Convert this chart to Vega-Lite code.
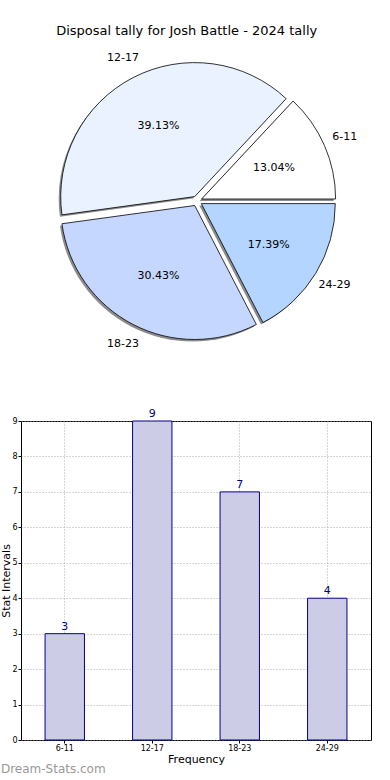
{
  "$schema": "https://vega.github.io/schema/vega-lite/v6.json",
  "padding": {"left": 0, "top": 25, "right": 0, "bottom": 0},
  "background": "white",
  "config": {
    "font": "DejaVu Sans",
    "view": {"stroke": null},
    "title": {"font": "DejaVu Sans", "fontWeight": "normal", "fontSize": 13, "color": "#000"}
  },
  "title": {"text": "Disposal tally for Josh Battle - 2024 tally", "anchor": "middle", "offset": 8},
  "datasets": {
    "tally": [
      {"bin": "6-11", "count": 3, "pct": "13.04%"},
      {"bin": "12-17", "count": 9, "pct": "39.13%"},
      {"bin": "18-23", "count": 7, "pct": "30.43%"},
      {"bin": "24-29", "count": 4, "pct": "17.39%"}
    ]
  },
  "spacing": 51,
  "vconcat": [
    {
      "width": 352,
      "height": 310,
      "data": {"name": "tally"},
      "transform": [{"window": [{"op": "row_number", "as": "idx"}]}],
      "encoding": {
        "theta": {"field": "count", "type": "quantitative", "stack": true, "scale": {"range": [1.5708, -4.7124]}},
        "order": {"field": "idx", "type": "quantitative"}
      },
      "layer": [
        {"mark": {"type": "arc", "radius": 134, "fill": "#8c8c8c", "xOffset": 2.6, "yOffset": 0, "stroke": null},
         "encoding": {"opacity": {"condition": {"test": "datum.bin === '6-11'", "value": 1}, "value": 0}}},
        {"mark": {"type": "arc", "radius": 134, "fill": "#8c8c8c", "xOffset": -4.3, "yOffset": -2.4, "stroke": null},
         "encoding": {"opacity": {"condition": {"test": "datum.bin === '12-17'", "value": 1}, "value": 0}}},
        {"mark": {"type": "arc", "radius": 134, "fill": "#8c8c8c", "xOffset": -4.3, "yOffset": 6.5, "stroke": null},
         "encoding": {"opacity": {"condition": {"test": "datum.bin === '18-23'", "value": 1}, "value": 0}}},
        {"mark": {"type": "arc", "radius": 134, "fill": "#8c8c8c", "xOffset": 2.3, "yOffset": 4.6, "stroke": null},
         "encoding": {"opacity": {"condition": {"test": "datum.bin === '24-29'", "value": 1}, "value": 0}}},
        {"mark": {"type": "arc", "radius": 134, "fill": "#ffffff", "xOffset": 4.6, "yOffset": -2, "stroke": "#000", "strokeWidth": 0.8},
         "encoding": {"opacity": {"condition": {"test": "datum.bin === '6-11'", "value": 1}, "value": 0}}},
        {"mark": {"type": "arc", "radius": 134, "fill": "#eaf1ff", "xOffset": -2.3, "yOffset": -4.4, "stroke": "#000", "strokeWidth": 0.8},
         "encoding": {"opacity": {"condition": {"test": "datum.bin === '12-17'", "value": 1}, "value": 0}}},
        {"mark": {"type": "arc", "radius": 134, "fill": "#c5d7ff", "xOffset": -2.3, "yOffset": 4.5, "stroke": "#000", "strokeWidth": 0.8},
         "encoding": {"opacity": {"condition": {"test": "datum.bin === '18-23'", "value": 1}, "value": 0}}},
        {"mark": {"type": "arc", "radius": 134, "fill": "#b3d5ff", "xOffset": 4.3, "yOffset": 2.6, "stroke": "#000", "strokeWidth": 0.8},
         "encoding": {"opacity": {"condition": {"test": "datum.bin === '24-29'", "value": 1}, "value": 0}}},
        {"mark": {"type": "text", "fontSize": 11, "color": "#000", "align": "center", "baseline": "middle"},
         "encoding": {"radius": {"value": 84}, "text": {"field": "pct", "type": "nominal"}}},
        {"mark": {"type": "text", "fontSize": 11, "color": "#000", "align": "center", "baseline": "middle"},
         "encoding": {"radius": {"value": 161}, "text": {"field": "bin", "type": "nominal"}}}
      ]
    },
    {
      "width": 350,
      "height": 319,
      "data": {"name": "tally"},
      "view": {"stroke": "#000", "strokeWidth": 1},
      "title": {"text": "Dream-Stats.com", "orient": "bottom", "anchor": "start", "frame": "bounds", "color": "#999999", "fontSize": 12, "fontWeight": "normal", "offset": 0},
      "encoding": {
        "x": {"field": "bin", "type": "nominal", "sort": null,
              "scale": {"paddingInner": 0.55, "paddingOuter": 0.275},
              "axis": {"title": "Frequency", "labelAngle": 0, "labelFontSize": 8, "titleFontSize": 11, "titleFontWeight": "normal",
                       "labelColor": "#000", "titleColor": "#000", "tickColor": "#000", "tickSize": 3, "labelPadding": 1, "titlePadding": 1,
                       "domain": false, "grid": true, "gridDash": [1, 2], "gridColor": "#999", "gridOpacity": 0.8}},
        "y": {"field": "count", "type": "quantitative",
              "scale": {"domain": [0, 9], "nice": false},
              "axis": {"title": "Stat Intervals", "values": [0,1,2,3,4,5,6,7,8,9], "labelFontSize": 8, "titleFontSize": 11, "titleFontWeight": "normal",
                       "labelColor": "#000", "titleColor": "#000", "tickColor": "#000", "tickSize": 3, "labelPadding": 1, "titlePadding": 0,
                       "domain": false, "grid": true, "gridDash": [1, 2], "gridColor": "#999", "gridOpacity": 0.8}}
      },
      "layer": [
        {"mark": {"type": "bar", "fill": "#ccccE6", "stroke": "#00008b", "strokeWidth": 1}},
        {"mark": {"type": "text", "fontSize": 11, "color": "#00008b", "baseline": "bottom", "dy": -2},
         "encoding": {"text": {"field": "count", "type": "quantitative"}}}
      ]
    }
  ]
}
